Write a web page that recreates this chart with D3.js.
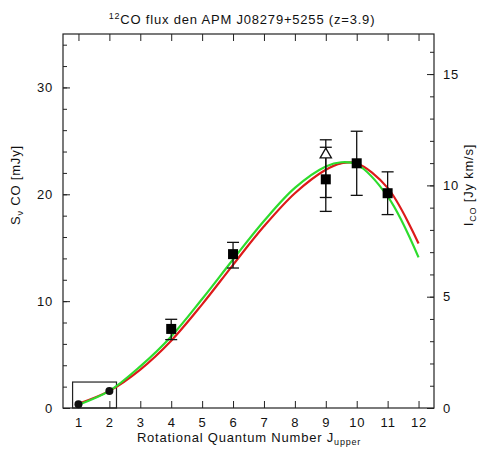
<!DOCTYPE html>
<html>
<head>
<meta charset="utf-8">
<script src="https://cdn.jsdelivr.net/npm/d3@7"></script>
<style>
  body { margin: 0; background: #fff; }
  text { font-family: "Liberation Sans", Arial, sans-serif; fill: #111; letter-spacing: 0.8px; }
</style>
</head>
<body>
<div id="chart"></div>
<script>
// observed fluxes (mJy) per upper J
const jObs = [1, 2, 4, 6, 9, 10, 11];
const sObs = [0.35, 1.6, 7.4, 14.4, 21.4, 22.9, 20.1];
const errLo = [null, null, 6.4, 13.1, 18.4, 19.9, 18.1];
const errHi = [null, null, 8.3, 15.5, 24.4, 25.9, 22.1];
const markerType = ["circle", "circle", "square", "square", "square", "square", "square"];

// the open triangle at J=9
const jTri = [9];
const sTri = [23.8];
const triLo = [19.7];
const triHi = [25.1];

// model curves
const jModel = [1, 2, 3, 4, 5, 6, 7, 8, 9, 9.5, 10, 11, 12];
const greenModel = [0.3, 1.6, 3.9, 6.7, 10.2, 13.9, 17.5, 20.6, 22.6, 23.0, 22.8, 19.8, 14.1];
const redModel = [0.4, 1.6, 3.6, 6.3, 9.7, 13.4, 17.0, 20.1, 22.3, 22.9, 22.9, 20.6, 15.4];

// ticks
const xTicks = [1, 2, 3, 4, 5, 6, 7, 8, 9, 10, 11, 12];
const leftMajor = [0, 10, 20, 30];
const rightMajor = [0, 5, 10, 15];

// set the dimensions and margins of the graph
const W = 477, H = 451;
const margin = {top: 34, right: 43, bottom: 43, left: 63};
const width = W - margin.left - margin.right,
  height = H - margin.top - margin.bottom;

const svg = d3.select("#chart")
  .append("svg")
    .attr("width", W)
    .attr("height", H);

const g = svg.append("g")
  .attr("transform", `translate(${margin.left},${margin.top})`);

const x = d3.scaleLinear().domain([0.5, 12.5]).range([0, width]);
const y = d3.scaleLinear().domain([0, 35]).range([height, 0]);
const y2 = d3.scaleLinear().domain([0, 16.8]).range([height, 0]);

// axes, ticks drawn inward
const tickStyle = s => s.attr("stroke", "#222").attr("stroke-width", 1);

g.append("g")
  .attr("transform", `translate(0,${height})`)
  .call(d3.axisBottom(x).tickValues(xTicks).tickSize(-7).tickPadding(10).tickFormat(d3.format("d")))
  .call(a => a.select(".domain").remove());

g.append("g")
  .call(d3.axisTop(x).tickValues(xTicks).tickSize(-7).tickFormat(""))
  .call(a => a.select(".domain").remove());

g.append("g")
  .call(d3.axisLeft(y).tickValues(d3.range(0, 35, 2)).tickSize(-4).tickFormat(""))
  .call(a => a.select(".domain").remove());
g.append("g")
  .call(d3.axisLeft(y).tickValues(leftMajor).tickSize(-7).tickPadding(10).tickFormat(d3.format("d")))
  .call(a => a.select(".domain").remove());

g.append("g")
  .attr("transform", `translate(${width},0)`)
  .call(d3.axisRight(y2).tickValues(d3.range(0, 17, 1)).tickSize(-4).tickFormat(""))
  .call(a => a.select(".domain").remove());
g.append("g")
  .attr("transform", `translate(${width},0)`)
  .call(d3.axisRight(y2).tickValues(rightMajor).tickSize(-7).tickPadding(9).tickFormat(d3.format("d")))
  .call(a => a.select(".domain").remove());

g.selectAll(".tick line").call(tickStyle);
g.selectAll(".tick text").attr("font-size", 13).attr("fill", "#111")
  .style("font-family", "'Liberation Sans', Arial, sans-serif");

// frame
g.append("rect")
  .attr("width", width).attr("height", height)
  .attr("fill", "none").attr("stroke", "#222").attr("stroke-width", 1.2);

// box around the low-J points
g.append("rect")
  .attr("x", x(0.81)).attr("y", y(2.43))
  .attr("width", x(2.23) - x(0.81)).attr("height", y(0) - y(2.43))
  .attr("fill", "none").attr("stroke", "#222").attr("stroke-width", 1.2);

// model lines
const line = d3.line()
  .x(d => x(d[0]))
  .y(d => y(d[1]))
  .curve(d3.curveCatmullRom.alpha(0.5));

g.append("path")
  .datum(jModel.map((j, i) => [j, redModel[i]]))
  .attr("d", line)
  .attr("fill", "none").attr("stroke", "#dd1a1a").attr("stroke-width", 2.2);

g.append("path")
  .datum(jModel.map((j, i) => [j, greenModel[i]]))
  .attr("d", line)
  .attr("fill", "none").attr("stroke", "#2ddc2d").attr("stroke-width", 2.2);

// error bars
const capW = 6;
function errBar(j, lo, hi) {
  const e = g.append("g").attr("stroke", "#111").attr("stroke-width", 1.3);
  e.append("line").attr("x1", x(j)).attr("x2", x(j)).attr("y1", y(lo)).attr("y2", y(hi));
  e.append("line").attr("x1", x(j) - capW).attr("x2", x(j) + capW).attr("y1", y(lo)).attr("y2", y(lo));
  e.append("line").attr("x1", x(j) - capW).attr("x2", x(j) + capW).attr("y1", y(hi)).attr("y2", y(hi));
}
jObs.forEach((j, i) => { if (errLo[i] != null) errBar(j, errLo[i], errHi[i]); });
jTri.forEach((j, i) => errBar(j, triLo[i], triHi[i]));

// markers
jObs.forEach((j, i) => {
  if (markerType[i] === "circle") {
    g.append("circle").attr("cx", x(j)).attr("cy", y(sObs[i])).attr("r", 4)
      .attr("fill", "#111");
  } else {
    g.append("rect").attr("x", x(j) - 5).attr("y", y(sObs[i]) - 5)
      .attr("width", 10).attr("height", 10).attr("fill", "#000");
  }
});
const tri = d3.symbol().type(d3.symbolTriangle).size(55);
jTri.forEach((j, i) => {
  g.append("path").attr("d", tri)
    .attr("transform", `translate(${x(j)},${y(sTri[i]) + 1})`)
    .attr("fill", "#fff").attr("stroke", "#111").attr("stroke-width", 1.3);
});

// title
const title = svg.append("text")
  .attr("x", 242).attr("y", 24)
  .attr("text-anchor", "middle").attr("font-size", 13);
title.append("tspan").attr("font-size", 9).attr("dy", -5).text("12");
title.append("tspan").attr("dy", 5).text("CO flux den APM J08279+5255 (z=3.9)");

// x label
const xl = svg.append("text")
  .attr("x", 249).attr("y", 442)
  .attr("text-anchor", "middle").attr("font-size", 13);
xl.append("tspan").text("Rotational Quantum Number J");
xl.append("tspan").attr("font-size", 9).attr("dy", 3).text("upper");

// left y label
const yl = svg.append("text")
  .attr("transform", "translate(20,185) rotate(-90)")
  .attr("text-anchor", "middle").attr("font-size", 13);
yl.append("tspan").text("S");
yl.append("tspan").attr("font-size", 9).attr("dy", 3).text("ν");
yl.append("tspan").attr("dy", -3).text(" CO [mJy]");

// right y label
const yr = svg.append("text")
  .attr("transform", "translate(473,185) rotate(-90)")
  .attr("text-anchor", "middle").attr("font-size", 13);
yr.append("tspan").text("I");
yr.append("tspan").attr("font-size", 9).attr("dy", 3).text("CO");
yr.append("tspan").attr("dy", -3).text(" [Jy km/s]");
</script>
</body>
</html>
